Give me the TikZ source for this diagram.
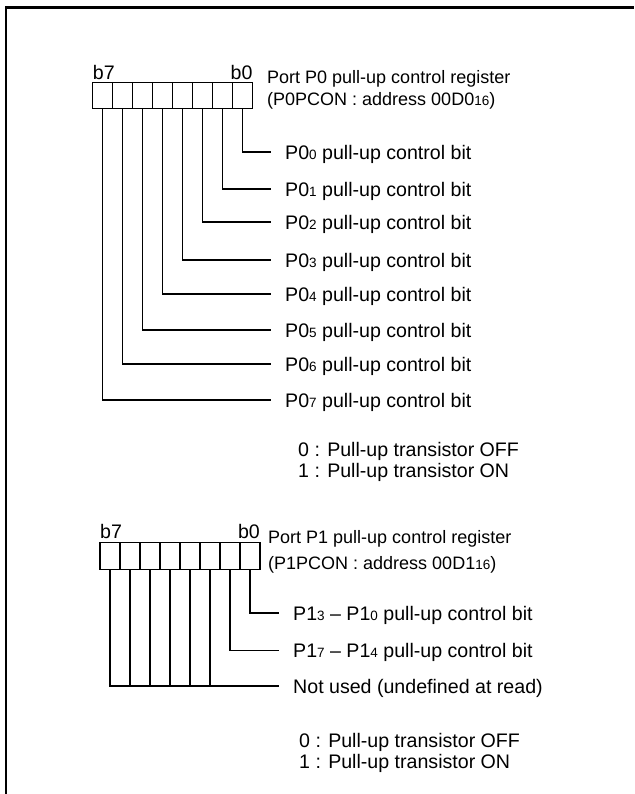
\documentclass[tikz,border=0pt]{standalone}
\usepackage{fontspec}
\setmainfont{Liberation Sans}
\usetikzlibrary{positioning}
\newcommand{\sbs}[1]{{\fontsize{13.5}{13.5}\selectfont #1}}

\begin{document}
\begin{tikzpicture}[
    x=1pt, y=-1pt,
    every node/.style={font=\fontsize{19.6}{21.5}\selectfont},
    cell/.style  ={draw, line width=1.2pt, minimum width=20pt, minimum height=26.5pt,
                   inner sep=0pt, outer sep=0pt},
    bitno/.style ={inner sep=0pt},
    title/.style ={anchor=north west, align=left, inner sep=0pt,
                   font=\fontsize{18}{22}\selectfont},
    legend/.style={anchor=north west, align=left, inner sep=0pt,
                   font=\fontsize{19.6}{20.5}\selectfont},
    bitlbl/.style={anchor=west, inner xsep=14pt, inner ysep=0pt, text depth=0pt},
    wire/.style  ={line width=1.2pt},
    frame/.style ={line width=2.6pt},
]
\useasboundingbox (0,0) rectangle (634,794);
\draw[frame] (6,794) -- (6,7.5) -- (634,7.5);

% --- P0PCON register ---
\node[cell] (a7) at (102.7,95.5) {};
\foreach \b/\p in {6/7,5/6,4/5,3/4,2/3,1/2,0/1}
  \node[cell, right=0pt of a\p] (a\b) {};
\node[bitno, anchor=base west] (a7n) at ([yshift=3pt]a7.north west) {b7};
\node[bitno, anchor=base east] (a0n) at ([yshift=3pt]a0.north east) {b0};
\node[title] (atitle) at (267,70.4)
     {Port P0 pull-up control register\\(P0PCON : address 00D0\sbs{16})};

\node[bitlbl] (t0) at (271,152) {P0\sbs{0} pull-up control bit};
\node[bitlbl] (t1) at (271,189) {P0\sbs{1} pull-up control bit};
\node[bitlbl] (t2) at (271,222) {P0\sbs{2} pull-up control bit};
\node[bitlbl] (t3) at (271,260) {P0\sbs{3} pull-up control bit};
\node[bitlbl] (t4) at (271,294) {P0\sbs{4} pull-up control bit};
\node[bitlbl] (t5) at (271,330) {P0\sbs{5} pull-up control bit};
\node[bitlbl] (t6) at (271,364) {P0\sbs{6} pull-up control bit};
\node[bitlbl] (t7) at (271,400) {P0\sbs{7} pull-up control bit};
\foreach \b in {0,...,7}
  \draw[wire] (a\b) |- (t\b);

\node[legend] (alegend) at (298,442.5)
     {0 : Pull-up transistor OFF\\1 : Pull-up transistor ON};

% --- P1PCON register ---
\node[cell] (b7) at (110,556) {};
\foreach \b/\p in {6/7,5/6,4/5,3/4,2/3,1/2,0/1}
  \node[cell, right=0pt of b\p] (b\b) {};
\node[bitno, anchor=base west] (b7n) at ([yshift=4pt]b7.north west) {b7};
\node[bitno, anchor=base east] (b0n) at ([yshift=4pt]b0.north east) {b0};
\node[title] (btitle) at (268,530)
     {Port P1 pull-up control register\\[4pt](P1PCON : address 00D1\sbs{16})};

\node[bitlbl] (s0) at (279,613) {P1\sbs{3} – P1\sbs{0} pull-up control bit};
\node[bitlbl] (s1) at (279,650.7) {P1\sbs{7} – P1\sbs{4} pull-up control bit};
\node[bitlbl] (sn) at (279,686) {Not used (undefined at read)};
\draw[wire] (b0) |- (s0);
\draw[wire] (b1) |- (s1);
\draw[wire] (b7) |- (sn);
\foreach \b in {2,...,6}
  \draw[wire] (b\b) -- (b\b |- sn.west);

\node[legend] (blegend) at (299,733.5)
     {0 : Pull-up transistor OFF\\1 : Pull-up transistor ON};
\end{tikzpicture}
\end{document}
